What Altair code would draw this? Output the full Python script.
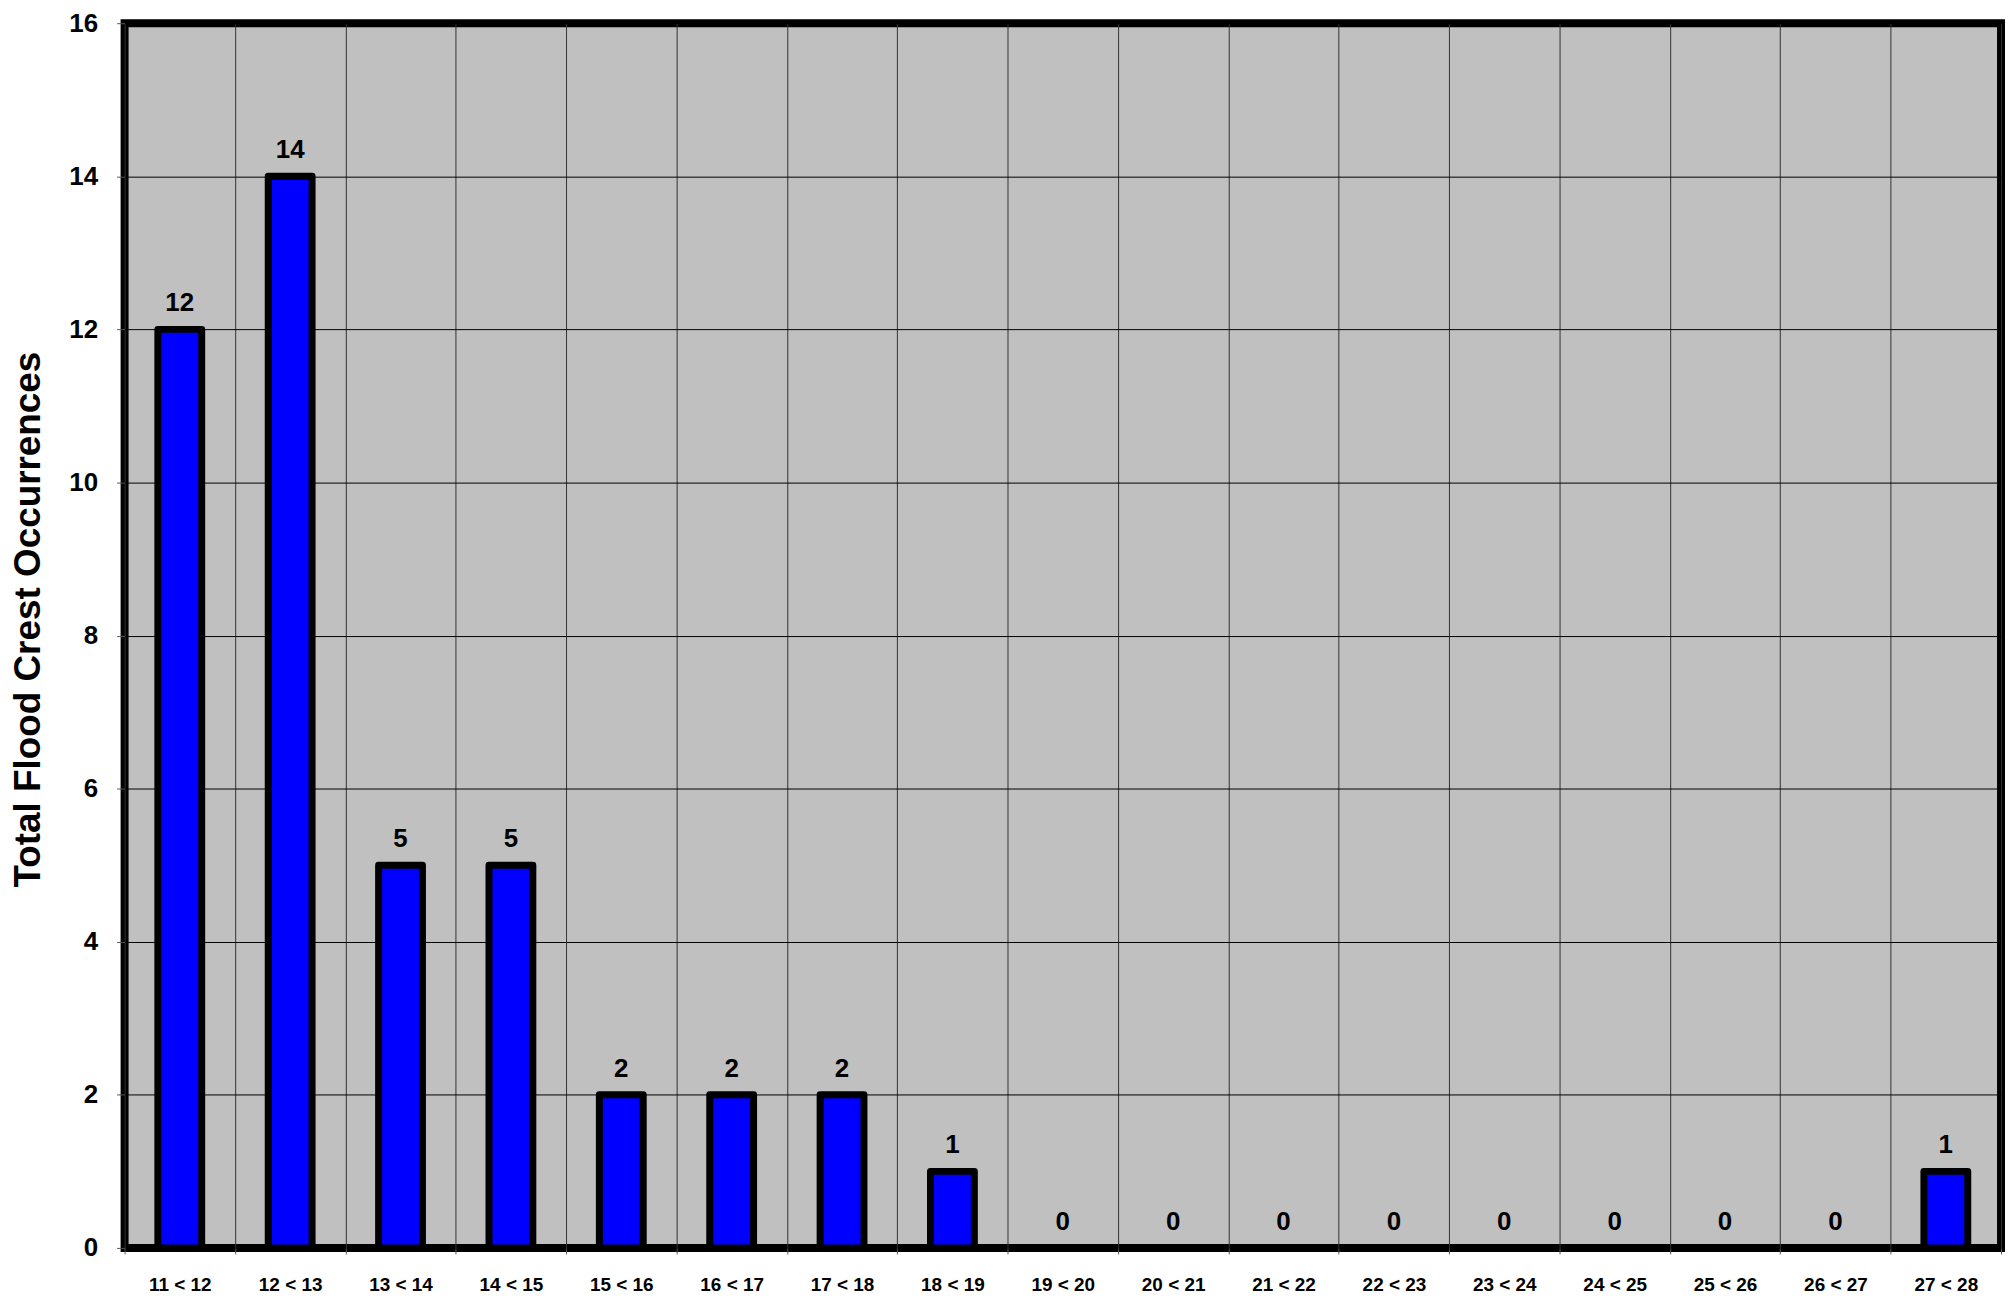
import altair as alt
import pandas as pd

categories = ["11 < 12", "12 < 13", "13 < 14", "14 < 15", "15 < 16", "16 < 17",
              "17 < 18", "18 < 19", "19 < 20", "20 < 21", "21 < 22", "22 < 23",
              "23 < 24", "24 < 25", "25 < 26", "26 < 27", "27 < 28"]
counts = [12, 14, 5, 5, 2, 2, 2, 1, 0, 0, 0, 0, 0, 0, 0, 0, 1]

df = pd.DataFrame({"range": categories, "count": counts})

FONT = "Liberation Sans, Arial, sans-serif"

x = alt.X("range:N", sort=categories,
          scale=alt.Scale(paddingInner=0, paddingOuter=0),
          axis=alt.Axis(title=None, tickBand="extent", grid=True, gridColor="#333333",
                        gridWidth=1, domain=False, ticks=True, tickSize=6,
                        tickColor="#555555", labelAngle=0, labelFont=FONT,
                        labelFontSize=19, labelFontWeight="bold", labelColor="black",
                        labelPadding=22, labelOverlap=False, labelBaseline="top"))
y = alt.Y("count:Q", scale=alt.Scale(domain=[0, 16], nice=False),
          axis=alt.Axis(title="Total Flood Crest Occurrences", values=list(range(0, 17, 2)),
                        format="d",
                        grid=True, gridColor="black", gridWidth=1, domain=False,
                        tickSize=8, tickColor="#555555", labelFont=FONT, labelFontSize=26,
                        labelFontWeight="bold", labelColor="black", labelPadding=19,
                        titleFont=FONT, titleFontSize=37, titleFontWeight="bold",
                        titleColor="black", titleAngle=-90, titleX=-96, titleY=598,
                        titleAlign="center", titleBaseline="middle"))

bars = alt.Chart(df).transform_filter(alt.datum["count"] > 0).mark_bar(
    size=44, color="#0000FF", stroke="black", strokeWidth=7, strokeJoin="round"
).encode(x=x, y=y)

labels = alt.Chart(df).mark_text(font=FONT, fontSize=26, fontWeight="bold", color="black",
                                 baseline="alphabetic", dy=-18).encode(
    x=alt.X("range:N", sort=categories), y=alt.Y("count:Q"), text="count:Q")

chart = alt.layer(bars, labels).properties(
    width=1883, height=1229,
    background="white",
    autosize=alt.AutoSizeParams(type="none"),
    padding={"left": 117, "top": 13, "right": 4, "bottom": 48},
).configure_view(fill="#C0C0C0", stroke="black", strokeWidth=8)

chart.save("out.html", embed_options={"renderer": "svg", "actions": False})
